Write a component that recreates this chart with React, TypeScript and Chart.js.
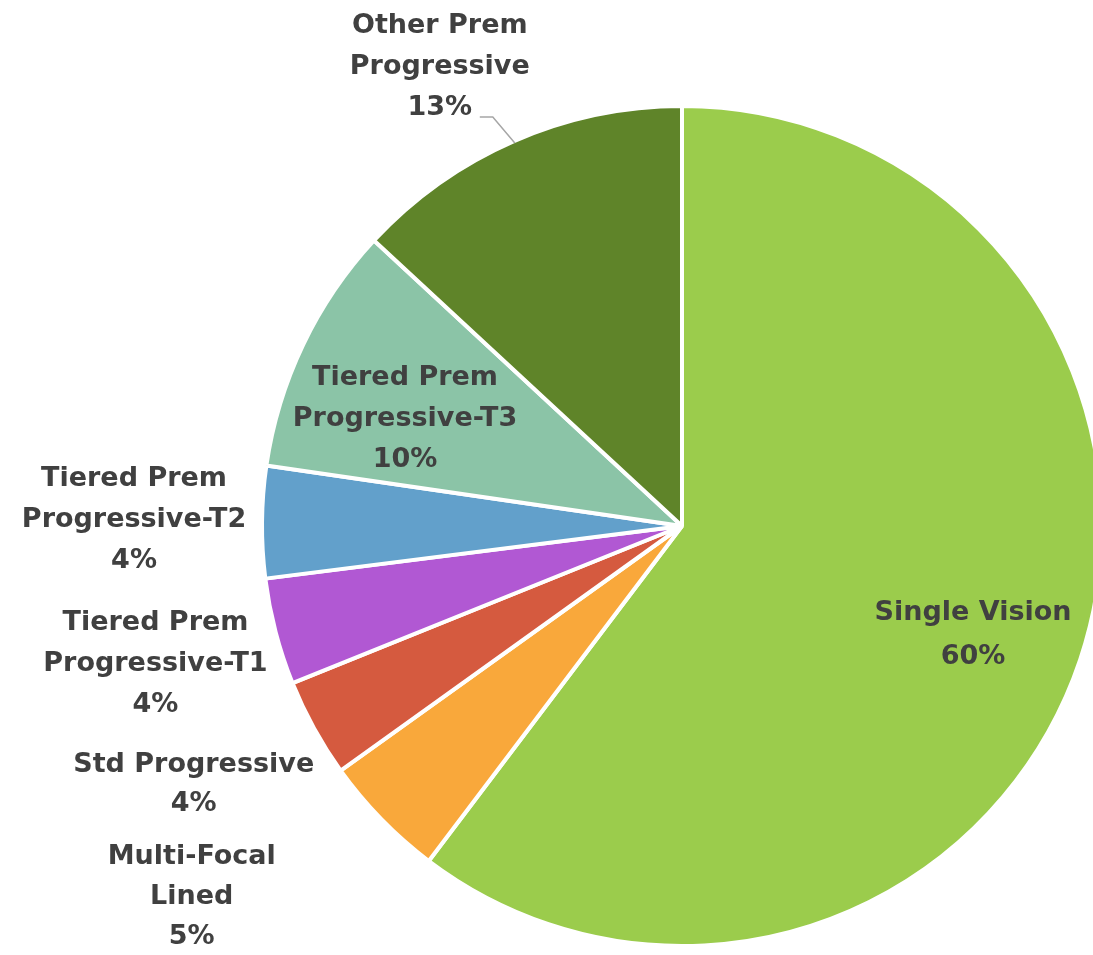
import React, { useEffect, useRef } from "react";
import { Chart, registerables } from "chart.js";

Chart.register(...registerables);

const categories = [
  "Single Vision",
  "Multi-Focal Lined",
  "Std Progressive",
  "Tiered Prem Progressive-T1",
  "Tiered Prem Progressive-T2",
  "Tiered Prem Progressive-T3",
  "Other Prem Progressive",
];
const labelLines = [
  ["Single Vision"],
  ["Multi-Focal", "Lined"],
  ["Std Progressive"],
  ["Tiered Prem", "Progressive-T1"],
  ["Tiered Prem", "Progressive-T2"],
  ["Tiered Prem", "Progressive-T3"],
  ["Other Prem", "Progressive"],
];
const shares = [60.3, 4.8, 3.8, 4.1, 4.3, 9.6, 13.1];
const colors = ["#9BCC4C", "#F9A83B", "#D55A3F", "#B158D3", "#62A0CB", "#8BC4A7", "#5F8429"];

const FONT = "bold 27px 'DejaVu Sans', sans-serif";
const LINE_H = 41;
const TEXT_COLOR = "#404040";

// label placement: inside labels relative to pie center, outside relative to edge point at mid-angle
const placement = [
  { inside: true, dx: 291, dy: 109, lh: 44 },
  { inside: false, dx: -191, dy: 79, lh: 40 },
  { inside: false, dx: -122, dy: 57, lh: 39 },
  { inside: false, dx: -122, dy: 33, lh: 41 },
  { inside: false, dx: -130, dy: -2, lh: 41 },
  { inside: true, dx: -277, dy: -107, lh: 41 },
  { inside: false, dx: -75, dy: -76, lh: 41, leader: true },
];

const labelPlugin = {
  id: "pieLabels",
  afterDatasetsDraw(chart: any) {
    const ctx = chart.ctx;
    const meta = chart.getDatasetMeta(0);
    const data = chart.data.datasets[0].data as number[];
    const total = data.reduce((a, b) => a + b, 0);
    ctx.save();
    ctx.font = FONT;
    ctx.fillStyle = TEXT_COLOR;
    ctx.textAlign = "center";
    ctx.textBaseline = "middle";
    meta.data.forEach((arc: any, i: number) => {
      const { x, y, startAngle, endAngle, outerRadius } = arc.getProps(
        ["x", "y", "startAngle", "endAngle", "outerRadius"],
        true
      );
      const mid = (startAngle + endAngle) / 2;
      const p = placement[i];
      let ax = x;
      let ay = y;
      const r = outerRadius - 2;
      const ex = x + Math.cos(mid) * r;
      const ey = y + Math.sin(mid) * r;
      if (!p.inside) {
        ax = ex;
        ay = ey;
      }
      const cx = ax + p.dx;
      const cy = ay + p.dy;
      const lh = p.lh || LINE_H;
      const pct = Math.round((data[i] / total) * 100) + "%";
      const lines = [...labelLines[i], pct];
      const startY = cy - ((lines.length - 1) * lh) / 2;
      lines.forEach((t, k) => ctx.fillText(t, cx, startY + k * lh));
      if ((p as any).leader) {
        ctx.strokeStyle = "#A6A6A6";
        ctx.lineWidth = 1.5;
        ctx.beginPath();
        ctx.moveTo(ex, ey);
        ctx.lineTo(ex - 22, ey - 26);
        ctx.lineTo(ex - 35, ey - 26);
        ctx.stroke();
      }
    });
    ctx.restore();
  },
};

export default function App() {
  const ref = useRef<HTMLCanvasElement>(null);
  useEffect(() => {
    if (!ref.current) return;
    const chart = new Chart(ref.current, {
      type: "pie",
      data: {
        labels: categories,
        datasets: [
          {
            data: shares,
            backgroundColor: colors,
            borderColor: "#FFFFFF",
            borderWidth: 4,
          },
        ],
      },
      options: {
        responsive: false,
        animation: false,
        devicePixelRatio: 1,
        layout: { padding: { top: 104, bottom: 7, left: 0, right: 0 } },
        plugins: {
          legend: { display: false },
          tooltip: { enabled: false },
        },
      },
      plugins: [labelPlugin],
    });
    return () => chart.destroy();
  }, []);
  return (
    <div
      style={{
        position: "absolute",
        left: 0,
        top: 0,
        width: 1093,
        height: 955,
        overflow: "hidden",
        background: "#FFFFFF",
      }}
    >
      <canvas ref={ref} width={1364} height={955} style={{ width: 1364, height: 955, display: "block" }} />
    </div>
  );
}
